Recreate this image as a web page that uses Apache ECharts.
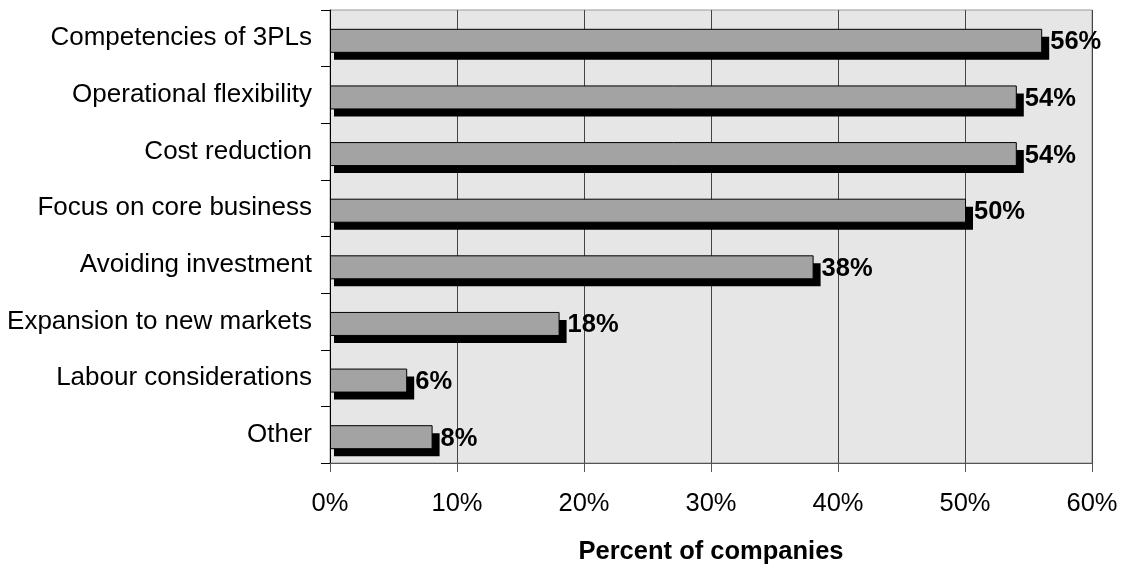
<!DOCTYPE html>
<html>
<head>
<meta charset="utf-8">
<script src="https://cdn.jsdelivr.net/npm/echarts@6/dist/echarts.min.js"></script>
<style>html,body{margin:0;padding:0;background:#fff}#c{width:1126px;height:570px}</style>
</head>
<body>
<div id="c"></div>
<script>
const categories = ["Competencies of 3PLs","Operational flexibility","Cost reduction","Focus on core business","Avoiding investment","Expansion to new markets","Labour considerations","Other"];
const values = [56, 54, 54, 50, 38, 18, 6, 8];
const xTicks = [0, 10, 20, 30, 40, 50, 60];

const chart = echarts.init(document.getElementById('c'));
const FONT = '"Liberation Sans", Arial, sans-serif';
chart.setOption({
  animation: false,
  grid: {left: 330, right: 34, top: 10, bottom: 106, show: true, backgroundColor: '#e6e6e6', borderColor: '#999', borderWidth: 1},
  xAxis: {
    type: 'value', min: xTicks[0], max: xTicks[xTicks.length-1], interval: 10,
    axisLine: {show: true, lineStyle: {color: '#555', width: 1}},
    axisTick: {show: true, length: 9, lineStyle: {color: '#555'}},
    splitLine: {show: true, lineStyle: {color: '#444', width: 1}},
    axisLabel: {formatter: v => v + '%', fontFamily: FONT, fontSize: 25.5, color: '#000', margin: 28},
    name: 'Percent of companies', nameLocation: 'middle', nameGap: 76,
    nameTextStyle: {fontFamily: FONT, fontSize: 25.5, fontWeight: 'bold', color: '#000'}
  },
  yAxis: {
    type: 'category', data: categories, inverse: true,
    axisLine: {show: true, lineStyle: {color: '#000', width: 1}},
    axisTick: {show: true, length: 9, lineStyle: {color: '#000'}},
    axisLabel: {fontFamily: FONT, fontSize: 26, color: '#000', margin: 18}
  },
  series: [{
    type: 'custom',
    encode: {x: 0, y: 1},
    data: values.map((v, i) => [v, i]),
    renderItem: function (params, api) {
      const p0 = api.coord([0, api.value(1)]);
      const p1 = api.coord([api.value(0), api.value(1)]);
      const h = 23;
      const cy = p0[1] + 2;
      const top = cy - h / 2;
      return {
        type: 'group',
        children: [
          {type: 'rect', shape: {x: p0[0] + 4, y: top + 8, width: p1[0] - p0[0] + 4, height: h}, style: {fill: '#000'}},
          {type: 'rect', shape: {x: p0[0] + 0.5, y: top + 0.5, width: p1[0] - p0[0], height: h}, style: {fill: '#a3a3a3', stroke: '#000', lineWidth: 1}},
          {type: 'text', x: p1[0] + 9, y: cy + 2, style: {text: api.value(0) + '%', fill: '#000', font: 'bold 25.5px ' + FONT, textVerticalAlign: 'middle', textAlign: 'left'}}
        ]
      };
    }
  }]
});
</script>
</body>
</html>
